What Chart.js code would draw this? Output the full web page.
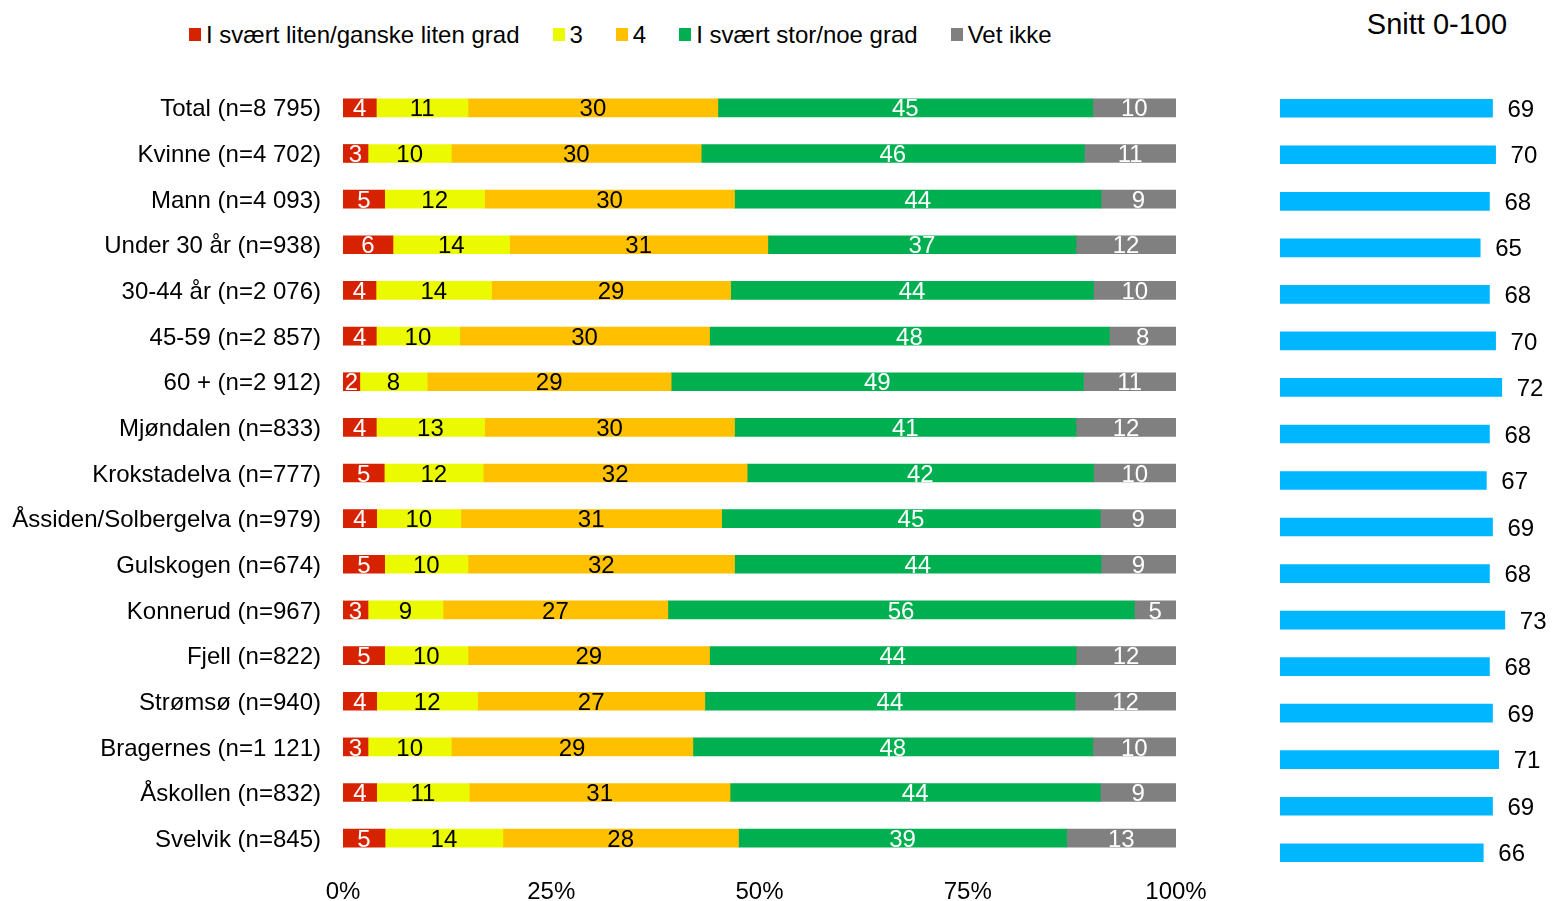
<!DOCTYPE html>
<html>
<head>
<meta charset="utf-8">
<script src="https://cdn.jsdelivr.net/npm/chart.js@4.4.1/dist/chart.umd.min.js"></script>
<style>
  body {
    margin: 0;
    width: 1552px;
    height: 901px;
    position: relative;
    overflow: hidden;
    background: #fff;
    font-family: 'Liberation Sans', Arial, sans-serif;
  }
  #main { position: absolute; left: 0; top: 0; }
  #snitt { position: absolute; left: 1240px; top: 0; }
  .legend {
    position: absolute;
    left: 189px;
    top: 22px;
    display: flex;
    align-items: center;
    font-size: 24px;
    line-height: 25px;
    color: #000;
  }
  .legend-item { display: flex; align-items: center; margin-right: 33px; }
  .legend-box { width: 12px; height: 13px; margin-right: 5px; }
  .title {
    position: absolute;
    left: 1337px;
    top: 7px;
    width: 200px;
    text-align: center;
    font-size: 29px;
    line-height: 34px;
    color: #000;
  }
</style>
</head>
<body>
<div class="legend" id="legend"></div>
<div class="title">Snitt 0-100</div>
<canvas id="main" width="1240" height="901"></canvas>
<canvas id="snitt" width="312" height="901"></canvas>
<script>
const categories = [
  'Total (n=8 795)', 'Kvinne (n=4 702)', 'Mann (n=4 093)', 'Under 30 år (n=938)',
  '30-44 år (n=2 076)', '45-59 (n=2 857)', '60 + (n=2 912)', 'Mjøndalen (n=833)',
  'Krokstadelva (n=777)', 'Åssiden/Solbergelva (n=979)', 'Gulskogen (n=674)',
  'Konnerud (n=967)', 'Fjell (n=822)', 'Strømsø (n=940)', 'Bragernes (n=1 121)',
  'Åskollen (n=832)', 'Svelvik (n=845)'
];

const seriesNames = ['I svært liten/ganske liten grad', '3', '4', 'I svært stor/noe grad', 'Vet ikke'];
const seriesColors = ['#D72200', '#ECFA00', '#FFC000', '#00B050', '#808080'];
const labelColors = ['#fff', '#000', '#000', '#fff', '#fff'];

const lowGrade = [4, 3, 5, 6, 4, 4, 2, 4, 5, 4, 5, 3, 5, 4, 3, 4, 5];
const grade3 = [11, 10, 12, 14, 14, 10, 8, 13, 12, 10, 10, 9, 10, 12, 10, 11, 14];
const grade4 = [30, 30, 30, 31, 29, 30, 29, 30, 32, 31, 32, 27, 29, 27, 29, 31, 28];
const highGrade = [45, 46, 44, 37, 44, 48, 49, 41, 42, 45, 44, 56, 44, 44, 48, 44, 39];
const dontKnow = [10, 11, 9, 12, 10, 8, 11, 12, 10, 9, 9, 5, 12, 12, 10, 9, 13];

const average = [69, 70, 68, 65, 68, 70, 72, 68, 67, 69, 68, 73, 68, 69, 71, 69, 66];

const xTicks = [0, 25, 50, 75, 100];

const FONT = "'Liberation Sans', Arial, sans-serif";

// legend
const legendEl = document.getElementById('legend');
seriesNames.forEach((name, i) => {
  const item = document.createElement('div');
  item.className = 'legend-item';
  item.innerHTML = '<span class="legend-box" style="background:' + seriesColors[i] + '"></span><span>' + name + '</span>';
  legendEl.appendChild(item);
});

// draws the value labels on/next to bars
const barLabels = {
  id: 'barLabels',
  afterDatasetsDraw(chart, args, opts) {
    const ctx = chart.ctx;
    ctx.save();
    ctx.font = opts.size + 'px ' + FONT;
    ctx.textBaseline = 'middle';
    chart.data.datasets.forEach((ds, i) => {
      const meta = chart.getDatasetMeta(i);
      meta.data.forEach((bar, j) => {
        const v = ds.values[j];
        if (opts.mode === 'end') {
          ctx.fillStyle = '#000';
          ctx.textAlign = 'left';
          ctx.fillText(v, bar.x + 15, bar.y + 2);
        } else {
          ctx.fillStyle = ds.labelColor;
          ctx.textAlign = 'center';
          ctx.fillText(v, (bar.x + bar.base) / 2, bar.y + 2);
        }
      });
    });
    ctx.restore();
  }
};

const series = [lowGrade, grade3, grade4, highGrade, dontKnow];
const rowSums = categories.map((c, j) => series.reduce((s, arr) => s + arr[j], 0));

new Chart(document.getElementById('main'), {
  type: 'bar',
  data: {
    labels: categories,
    datasets: series.map((arr, i) => ({
      label: seriesNames[i],
      data: arr.map((v, j) => v / rowSums[j] * 100),
      values: arr,
      backgroundColor: seriesColors[i],
      labelColor: labelColors[i],
      barThickness: 18,
      borderWidth: 0
    }))
  },
  options: {
    indexAxis: 'y',
    responsive: false,
    animation: false,
    layout: { padding: { left: 0, right: 64, top: 85, bottom: 0 } },
    scales: {
      x: {
        stacked: true,
        min: 0,
        max: 100,
        afterBuildTicks: (scale) => { scale.ticks = xTicks.map(v => ({ value: v })); },
        afterFit: (scale) => { scale.height = 40; },
        grid: { display: false, drawTicks: false },
        border: { display: false },
        ticks: {
          padding: 17,
          color: '#000',
          font: { size: 24, family: FONT },
          callback: (v) => v + '%'
        }
      },
      y: {
        stacked: true,
        afterFit: (scale) => { scale.width = 343; },
        grid: { display: false, drawTicks: false },
        border: { display: false },
        ticks: {
          padding: 22,
          labelOffset: 2,
          color: '#000',
          font: { size: 24, family: FONT }
        }
      }
    },
    plugins: {
      legend: { display: false },
      tooltip: { enabled: false },
      barLabels: { mode: 'center', size: 24 }
    }
  },
  plugins: [barLabels]
});

new Chart(document.getElementById('snitt'), {
  type: 'bar',
  data: {
    labels: categories,
    datasets: [{
      label: 'Snitt 0-100',
      data: average,
      values: average,
      backgroundColor: '#00B6FF',
      barThickness: 18,
      borderWidth: 0
    }]
  },
  options: {
    indexAxis: 'y',
    responsive: false,
    animation: false,
    layout: { padding: { left: 40, right: 25.6, top: 85, bottom: 25 } },
    scales: {
      x: { display: false, min: 0, max: 80 },
      y: { display: false }
    },
    plugins: {
      legend: { display: false },
      tooltip: { enabled: false },
      barLabels: { mode: 'end', size: 24 }
    }
  },
  plugins: [barLabels]
});
</script>
</body>
</html>
